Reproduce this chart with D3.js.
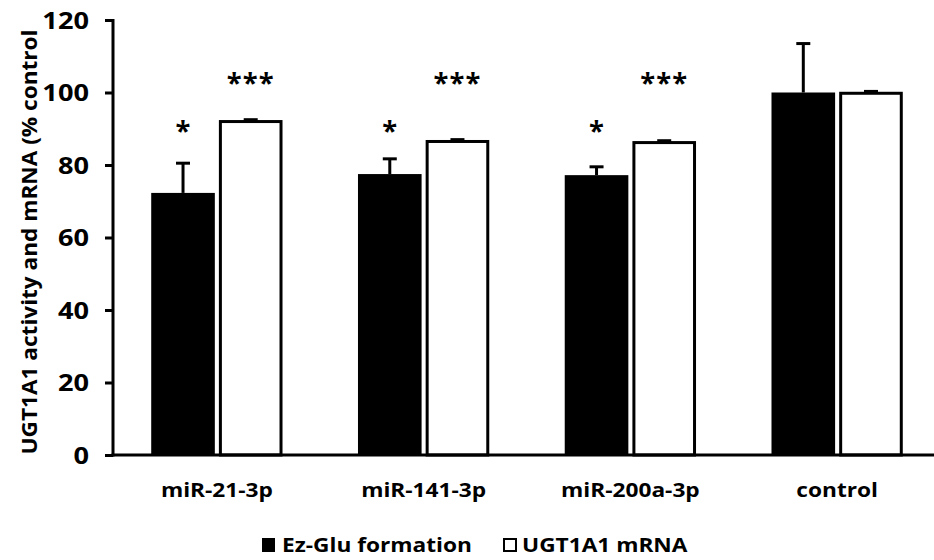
<!DOCTYPE html>
<html><head><meta charset="utf-8">
<script src="https://cdn.jsdelivr.net/npm/d3@7"></script>
<style>body{margin:0;background:#fff}svg{display:block}</style>
</head><body>
<svg id="c" width="934" height="560"></svg>
<script>
const categories = ["miR-21-3p","miR-141-3p","miR-200a-3p","control"];
const series = ["Ez-Glu formation","UGT1A1 mRNA"];
const ezGlu = [72.3, 77.5, 77.2, 100.0];
const ezGluErr = [8.2, 4.2, 2.3, 13.5];
const mrna = [92.4, 86.9, 86.6, 100.2];
const mrnaErr = [0.1, 0.1, 0.1, 0.1];
const ezSig = ["*","*","*",""];
const mrnaSig = ["***","***","***",""];
const yTicks = [0,20,40,60,80,100,120];

const font = "'Open Sans', 'Noto Sans', sans-serif";
const svg = d3.select("#c");
const x0 = d3.scaleBand().domain(categories).range([114, 940]).paddingInner(0.365).paddingOuter(0.18);
const x1 = d3.scaleBand().domain(series).range([0, x0.bandwidth()]).paddingInner(0.06);
const y = d3.scaleLinear().domain([0,120]).range([455,20]);

const data = categories.map((c,i)=>[
  {c, s:series[0], v:ezGlu[i], e:ezGluErr[i], sig:ezSig[i]},
  {c, s:series[1], v:mrna[i], e:mrnaErr[i], sig:mrnaSig[i]}
]).flat();

function stretchText(sel, sx){
  sel.each(function(){
    const t = d3.select(this);
    const x = +t.attr("data-x"), yy = +t.attr("data-y");
    t.attr("transform", `translate(${x},${yy}) scale(${sx},1)`);
  });
}

// bars
svg.append("g").selectAll("rect").data(data).join("rect")
  .attr("x", d=>x0(d.c)+x1(d.s)+ (d.s===series[1]?1.5:0))
  .attr("y", d=>y(d.v) + (d.s===series[1]?1.5:0))
  .attr("width", d=>x1.bandwidth() - (d.s===series[1]?3:0))
  .attr("height", d=>y(0)-y(d.v) - (d.s===series[1]?1.5:0))
  .attr("fill", d=>d.s===series[0]?"#000":"#fff")
  .attr("stroke", d=>d.s===series[0]?"none":"#000")
  .attr("stroke-width", 3);

// error bars
const eb = svg.append("g").attr("stroke","#000").attr("stroke-width",3);
data.forEach(d=>{
  const cx = x0(d.c)+x1(d.s)+x1.bandwidth()/2;
  eb.append("line").attr("x1",cx).attr("x2",cx).attr("y1",y(d.v)).attr("y2",y(d.v+d.e));
  eb.append("line").attr("x1",cx-7).attr("x2",cx+7).attr("y1",y(d.v+d.e)).attr("y2",y(d.v+d.e));
});

// measure stretch factor from first category label
const probe = svg.append("text").attr("font-family",font).attr("font-weight","bold").attr("font-size",20).text(categories[0]);
const sx = 112 / probe.node().getComputedTextLength();
probe.remove();

// significance
svg.append("g").selectAll("text").data(data.filter(d=>d.sig)).join("text")
  .attr("data-x", d=>x0(d.c)+x1(d.s)+x1.bandwidth()/2)
  .attr("data-y", d=>d.sig==="*"? y(86.9) : y(100.2))
  .attr("text-anchor","middle")
  .attr("font-family",font).attr("font-weight","bold").attr("font-size",26)
  .attr("letter-spacing", d=>d.sig==="***"?"1px":"0")
  .text(d=>d.sig)
  .call(stretchText, 1.05);

// y axis
const ya = svg.append("g").attr("transform","translate(113,0)")
  .call(d3.axisLeft(y).tickValues(yTicks).tickSize(8).tickFormat(""));
ya.select(".domain").attr("stroke-width",3).attr("d","M0,19V456.5");
ya.selectAll(".tick line").attr("stroke-width",3);
svg.append("g").selectAll("text").data(yTicks).join("text")
  .attr("data-x", 89).attr("data-y", d=>y(d)+8.5)
  .attr("text-anchor","end")
  .attr("font-family",font).attr("font-weight","bold").attr("font-size",24)
  .text(d=>d)
  .call(stretchText, sx);

// x axis
svg.append("line").attr("x1",111.5).attr("x2",934).attr("y1",455).attr("y2",455).attr("stroke","#000").attr("stroke-width",3);
svg.append("g").selectAll("text").data(categories).join("text")
  .attr("data-x", d=>x0(d)+x0.bandwidth()/2)
  .attr("data-y", 497)
  .attr("text-anchor","middle")
  .attr("font-family",font).attr("font-weight","bold").attr("font-size",20)
  .text(d=>d)
  .call(stretchText, sx);

// y label
svg.append("text")
  .attr("transform","translate(37,242) rotate(-90)")
  .attr("text-anchor","middle")
  .attr("font-family",font).attr("font-weight","bold").attr("font-size",21)
  .attr("textLength",425).attr("lengthAdjust","spacingAndGlyphs")
  .text("UGT1A1 activity and mRNA (% control");

// legend
const lg = svg.append("g");
const lx = [262, 503];
series.forEach((s,i)=>{
  lg.append("rect").attr("x",lx[i]+(i?1:0)).attr("y",538+(i?1:0)).attr("width",i?12:13).attr("height",i?12:14)
    .attr("fill",i?"#fff":"#000").attr("stroke","#000").attr("stroke-width",i?2:0);
  lg.append("text").attr("data-x",lx[i]+(i?19:20)).attr("data-y",552)
    .attr("font-family",font).attr("font-weight","bold").attr("font-size",20)
    .text(s).call(stretchText, sx);
});
</script>
</body></html>
